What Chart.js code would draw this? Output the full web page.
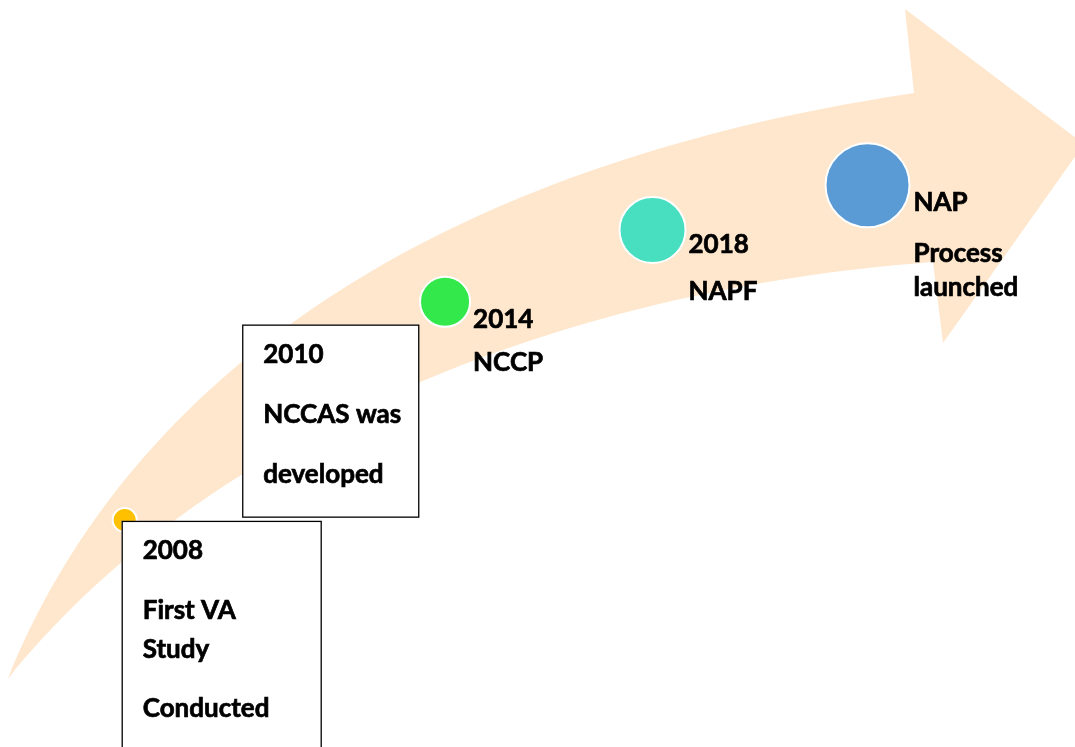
<!DOCTYPE html>
<html>
<head>
<meta charset="utf-8">
<script src="https://cdn.jsdelivr.net/npm/chart.js@4"></script>
<style>
  html, body { margin: 0; padding: 0; background: #fff; }
  canvas { display: block; }
</style>
</head>
<body>
<canvas id="timeline" width="1075" height="747"></canvas>
<script>
// milestones along the arrow
const milestones = ['2008', '2010', '2014', '2018', 'NAP'];
// position along the arrow (0-100 across, 0-100 up)
const xPos = [11.6, 27.0, 41.4, 60.7, 80.7];
const yPos = [30.4, 46.5, 59.6, 69.2, 75.2];
const sizes = [12, 18, 25, 33, 42];
const colors = ['#FFC000', '#ED7D31', '#33E84A', '#48DFC0', '#5B9BD5'];
const labelLines = [
    ['2008', 'First VA', 'Study', 'Conducted'],
    ['2010', 'NCCAS was', 'developed'],
    ['2014', 'NCCP'],
    ['2018', 'NAPF'],
    ['NAP', 'Process', 'launched']
];

// label placement relative to each bubble
const labelLayout = [
    { box: { dx: -3, dy: 1, w: 199, h: 260 }, textDx: 21, lineDy: [30, 90, 129, 188] },
    { box: { dx: -48, dy: -75, w: 176, h: 192 }, textDx: 21, lineDy: [30, 90, 150] },
    { textDx: 28, lineDy: [18, 61] },
    { textDx: 36, lineDy: [15, 62] },
    { textDx: 46, lineDy: [17, 68, 102] }
];

const labelFont = 'bold 26px Lato, "Open Sans", sans-serif';

// big curved arrow behind the bubbles (in 1075x747 reference units)
const arrowPlugin = {
    id: 'arrow',
    beforeDatasetsDraw(chart) {
        const { ctx, chartArea } = chart;
        const sx = chartArea.width / 1075;
        const sy = chartArea.height / 747;
        const P = (x, y) => [chartArea.left + x * sx, chartArea.top + y * sy];
        ctx.save();
        ctx.fillStyle = '#FEE7CD';
        ctx.beginPath();
        ctx.moveTo(...P(8, 679));
        ctx.bezierCurveTo(...P(120, 400), ...P(400, 170), ...P(914, 93));
        ctx.lineTo(...P(905, 9));
        ctx.lineTo(...P(1084, 144));
        ctx.lineTo(...P(943, 343));
        ctx.lineTo(...P(933, 262));
        ctx.bezierCurveTo(...P(550, 290), ...P(200, 440), ...P(8, 679));
        ctx.closePath();
        ctx.fill();
        ctx.restore();
    }
};

const labelPlugin = {
    id: 'labels',
    afterDatasetsDraw(chart) {
        const { ctx } = chart;
        const points = chart.getDatasetMeta(0).data;
        ctx.save();
        ctx.font = labelFont;
        ctx.textBaseline = 'middle';
        ctx.textAlign = 'left';
        points.forEach((pt, i) => {
            const lay = labelLayout[i];
            let ox = pt.x, oy = pt.y;
            if (lay.box) {
                const bx = pt.x + lay.box.dx;
                const by = pt.y + lay.box.dy;
                ctx.fillStyle = '#fff';
                ctx.fillRect(bx, by, lay.box.w, lay.box.h);
                ctx.strokeStyle = '#000';
                ctx.lineWidth = 1.3;
                ctx.strokeRect(bx + 0.5, by + 0.5, lay.box.w, lay.box.h);
                ox = bx;
                oy = by;
            }
            ctx.fillStyle = '#000';
            ctx.strokeStyle = '#000';
            ctx.lineWidth = 0.7;
            labelLines[i].forEach((line, j) => {
                ctx.fillText(line, ox + lay.textDx, oy + lay.lineDy[j]);
                ctx.strokeText(line, ox + lay.textDx, oy + lay.lineDy[j]);
            });
        });
        ctx.restore();
    }
};

new Chart(document.getElementById('timeline'), {
    type: 'bubble',
    data: {
        labels: milestones,
        datasets: [{
            data: milestones.map((m, i) => ({ x: xPos[i], y: yPos[i], r: sizes[i] })),
            backgroundColor: colors,
            borderColor: '#fff',
            borderWidth: 2,
            clip: false
        }]
    },
    options: {
        responsive: false,
        animation: false,
        layout: { padding: 0, autoPadding: false },
        scales: {
            x: { type: 'linear', min: 0, max: 100, display: false },
            y: { type: 'linear', min: 0, max: 100, display: false }
        },
        plugins: {
            legend: { display: false },
            tooltip: { enabled: false }
        }
    },
    plugins: [arrowPlugin, labelPlugin]
});
</script>
</body>
</html>
